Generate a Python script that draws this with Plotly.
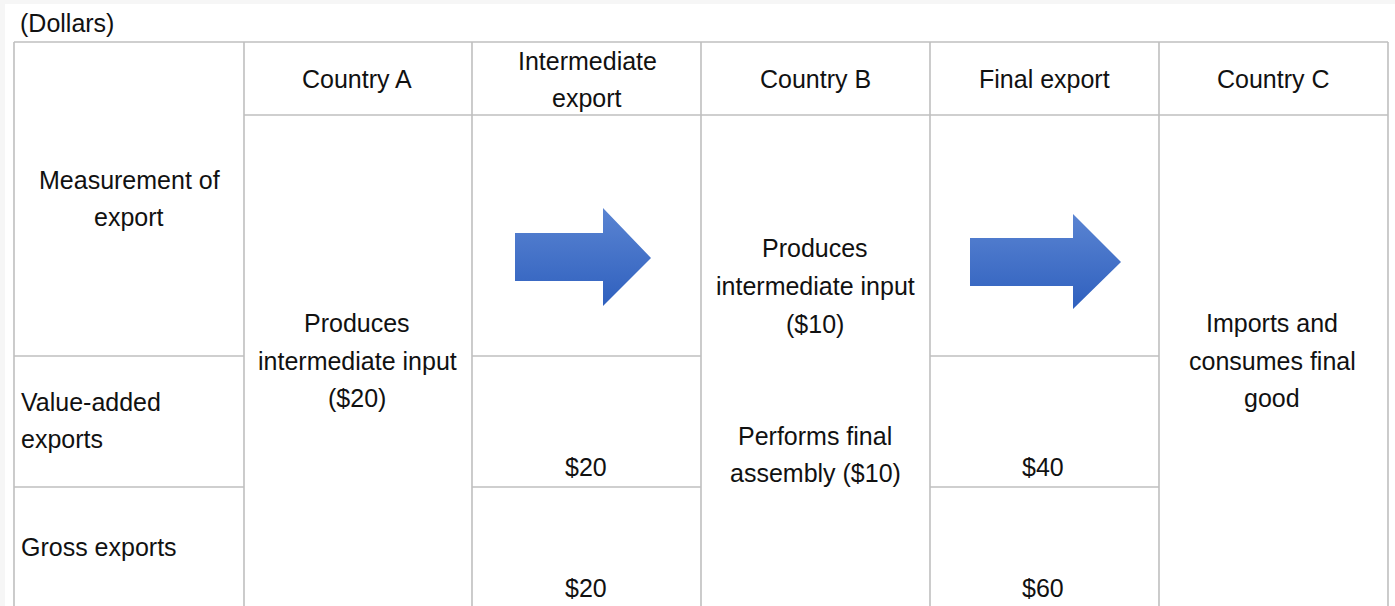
import plotly.graph_objects as go

W, H = 1395, 606

# Table grid geometry (pixel coordinates)
col_edges = [14, 244, 472, 701, 930, 1159, 1388]
row_edges = [42, 115, 356, 487, 606]

# Horizontal interior segments: (y, x0, x1)
h_segments = [
    (115, 244, 1388),
    (356, 14, 244), (356, 472, 701), (356, 930, 1159),
    (487, 14, 244), (487, 472, 701), (487, 930, 1159),
]

# Centered text lines: (text, x, y)
center_texts = [
    ("Country A", 357, 79),
    ("Intermediate", 587, 61), ("export", 587, 98),
    ("Country B", 815, 79),
    ("Final export", 1044, 79),
    ("Country C", 1273, 79),
    ("Measurement of", 129, 180), ("export", 129, 217),
    ("Produces", 357, 323), ("intermediate input", 357, 361), ("($20)", 357, 398),
    ("Produces", 815, 248), ("intermediate input", 815, 286), ("($10)", 815, 324),
    ("Performs final", 815, 436), ("assembly ($10)", 815, 473),
    ("Imports and", 1272, 323), ("consumes final", 1272, 361), ("good", 1272, 398),
    ("$20", 586, 467), ("$40", 1043, 467),
    ("$20", 586, 588), ("$60", 1043, 588),
]

# Left-aligned text lines: (text, x, y)
left_texts = [
    ("(Dollars)", 18, 23),
    ("Value-added", 19, 402), ("exports", 19, 439),
    ("Gross exports", 19, 547),
]

# Arrows: (body_x0, body_x1, body_y0, body_y1, head_y0, head_y1, tip_x, tip_y)
arrows = [
    (515, 603, 233, 281, 208, 306, 651, 258),
    (970, 1073, 238, 286, 214, 309, 1121, 262),
]

LINE_COLOR = "#bfbfbf"
FONT = "Liberation Sans, Arial, sans-serif"
FSIZE = 25

fig = go.Figure()

for bx0, bx1, by0, by1, hy0, hy1, tx, ty in arrows:
    xs = [bx0, bx1, bx1, tx, bx1, bx1, bx0, bx0]
    ys = [by0, by0, hy0, ty, hy1, by1, by1, by0]
    fig.add_trace(go.Scatter(
        x=xs, y=ys, mode="lines", fill="toself",
        line=dict(width=0, color="rgba(0,0,0,0)"),
        fillgradient=dict(type="vertical",
                          colorscale=[[0, "#2f60be"], [1, "#5a84d2"]]),
        hoverinfo="skip", showlegend=False,
    ))

shapes = []
# white panel
shapes.append(dict(type="rect", xref="x", yref="y", x0=5, x1=W, y0=4, y1=H,
                   fillcolor="white", line=dict(width=0), layer="below"))
# vertical lines
for x in col_edges:
    shapes.append(dict(type="line", xref="x", yref="y", x0=x, x1=x,
                       y0=row_edges[0], y1=row_edges[-1] + 5,
                       line=dict(color=LINE_COLOR, width=1.6)))
# top border
shapes.append(dict(type="line", xref="x", yref="y", x0=col_edges[0], x1=col_edges[-1],
                   y0=row_edges[0], y1=row_edges[0],
                   line=dict(color=LINE_COLOR, width=1.6)))
for y, x0, x1 in h_segments:
    shapes.append(dict(type="line", xref="x", yref="y", x0=x0, x1=x1, y0=y, y1=y,
                       line=dict(color=LINE_COLOR, width=1.6)))

annotations = []
for t, x, y in center_texts:
    annotations.append(dict(text=t, x=x, y=y, xref="x", yref="y",
                            xanchor="center", yanchor="middle", showarrow=False,
                            font=dict(family=FONT, size=FSIZE, color="#111111")))
for t, x, y in left_texts:
    annotations.append(dict(text=t, x=x, y=y, xref="x", yref="y",
                            xanchor="left", yanchor="middle", showarrow=False,
                            font=dict(family=FONT, size=FSIZE, color="#111111")))

fig.update_layout(
    width=W, height=H,
    margin=dict(l=0, r=0, t=0, b=0),
    paper_bgcolor="#f6f6f6", plot_bgcolor="rgba(0,0,0,0)",
    xaxis=dict(range=[0, W], visible=False, fixedrange=True),
    yaxis=dict(range=[H, 0], visible=False, fixedrange=True),
    shapes=shapes, annotations=annotations,
    showlegend=False,
)

fig.write_html("out.html", config={"displayModeBar": False},
               post_script="document.body.style.margin='0px';document.body.style.overflow='hidden';")
